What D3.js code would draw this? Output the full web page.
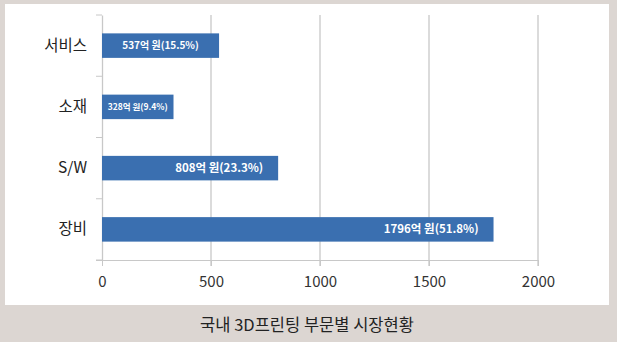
<!DOCTYPE html>
<html><head><meta charset="utf-8">
<script src="https://cdn.jsdelivr.net/npm/d3@7"></script>
<style>
html,body{margin:0;padding:0;background:#dcd6d2;}
svg{display:block;}
</style></head>
<body>
<svg id="c" width="617" height="342"></svg>
<script>
const categories = ["서비스", "소재", "S/W", "장비"];
const values = [537, 328, 808, 1796];
const labels = ["537억 원(15.5%)", "328억 원(9.4%)", "808억 원(23.3%)", "1796억 원(51.8%)"];
const xTicks = [0, 500, 1000, 1500, 2000];
const caption = "국내 3D프린팅 부문별 시장현황";

const svg = d3.select("#c");
const font = "'Noto Sans CJK KR','Noto Sans',sans-serif";
svg.append("rect").attr("x",0).attr("y",0).attr("width",617).attr("height",342).attr("fill","#dcd6d2");
svg.append("rect").attr("x",5).attr("y",4).attr("width",604).attr("height",301).attr("fill","#ffffff");

const x = d3.scaleLinear().domain([0,2000]).range([102,538]);
const y = d3.scaleBand().domain(categories).range([15,260]).paddingInner(0.6).paddingOuter(0.3);

// gridlines
svg.append("g").selectAll("line").data(xTicks.slice(1)).join("line")
  .attr("x1",d=>x(d)).attr("x2",d=>x(d)).attr("y1",15).attr("y2",266)
  .attr("stroke","#c8c8c8").attr("stroke-width",1.3);

// x axis
const xa = svg.append("g").attr("transform","translate(0,260)")
  .call(d3.axisBottom(x).tickValues(xTicks).tickSize(6).tickPadding(10).tickFormat(d3.format("d")));
xa.select(".domain").attr("stroke","#c8c8c8").attr("d","M96,0.5H538");
xa.selectAll(".tick line").attr("stroke","#c8c8c8");
xa.selectAll("text").attr("font-family",font).attr("font-size",15).attr("fill","#333");

// y axis
const ya = svg.append("g").attr("transform","translate(102,0)")
  .call(d3.axisLeft(y).tickSize(0).tickPadding(15));
ya.select(".domain").attr("stroke","#c8c8c8").attr("stroke-width",1.3);
ya.selectAll("text").attr("font-family",font).attr("font-size",15.5).attr("fill","#222");
// category boundary ticks
const step = y.step();
const bounds = [15].concat(categories.map(c => y(c) + y.bandwidth()/2 + step/2));
svg.append("g").selectAll("line").data(bounds).join("line")
  .attr("x1",96).attr("x2",102).attr("y1",d=>d).attr("y2",d=>d)
  .attr("stroke","#c8c8c8");

// bars
svg.append("g").selectAll("rect").data(values).join("rect")
  .attr("x",x(0)).attr("y",(d,i)=>y(categories[i]))
  .attr("width",d=>x(d)-x(0)).attr("height",y.bandwidth())
  .attr("fill","#3a6fb0");

// labels
svg.append("g").selectAll("text").data(values).join("text")
  .attr("x",(d,i)=> i<2 ? (x(0)+x(d))/2 : x(d)-15)
  .attr("y",(d,i)=>y(categories[i])+y.bandwidth()/2)
  .attr("dy","0.35em")
  .attr("text-anchor",(d,i)=> i<2 ? "middle" : "end")
  .attr("font-family",font).attr("font-weight","bold")
  .attr("font-size",(d,i)=> i===1 ? 8.5 : (i===0 ? 10 : 11.5))
  .attr("fill","#ffffff")
  .text((d,i)=>labels[i]);

svg.append("text").attr("x",307).attr("y",325).attr("dy","0.35em").attr("text-anchor","middle")
  .attr("font-family",font).attr("font-size",16.5).attr("fill","#222").text(caption);
</script>
</body></html>
